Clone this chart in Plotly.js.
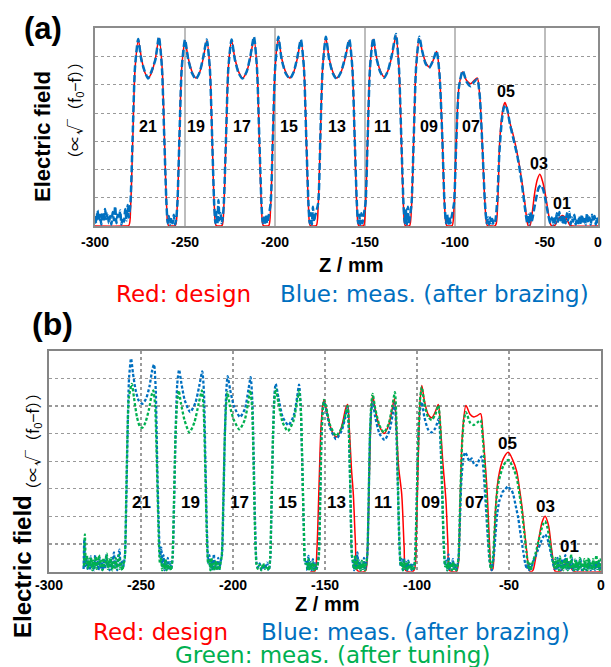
<!DOCTYPE html>
<html>
<head>
<meta charset="utf-8">
<script src="https://cdn.plot.ly/plotly-3.0.1.min.js"></script>
<style>html,body{margin:0;padding:0;background:#fff;}#chart{width:611px;height:667px;}</style>
</head>
<body>
<div id="chart"></div>
<script>
// ---------- Panel (a): [Z (mm), field] points ----------
const designA = [
[-300,0],[-284,0],
[-281.2,0.02],[-280.2,0.7],[-279.0,3.1],[-277.7,5.6],[-275.9,6.57],[-274.2,5.95],[-272.4,5.45],[-270.4,5.25],[-268.4,5.45],[-266.4,5.95],[-264.4,6.65],[-262.7,5.6],[-261.4,3.1],[-260.2,0.7],[-259.2,0.02],[-257.3,0],
[-255.3,0.02],[-254.3,0.7],[-253.1,3.1],[-251.8,5.6],[-250.0,6.54],[-248.2,5.95],[-246.0,5.45],[-243.9,5.24],[-241.8,5.45],[-239.8,5.95],[-237.9,6.57],[-236.2,5.6],[-234.9,3.1],[-233.7,0.7],[-232.7,0.02],[-231.0,0],
[-229.4,0.02],[-228.4,0.7],[-227.2,3.1],[-225.9,5.6],[-224.1,6.57],[-222.3,5.95],[-220.1,5.45],[-218.0,5.24],[-215.8,5.45],[-213.7,5.95],[-211.7,6.65],[-210.0,5.6],[-208.7,3.1],[-207.5,0.7],[-206.5,0.02],[-204.9,0],
[-203.4,0.02],[-202.4,0.7],[-201.2,3.1],[-199.9,5.6],[-198.1,6.65],[-196.3,5.95],[-194.0,5.45],[-191.7,5.24],[-189.6,5.45],[-187.5,5.95],[-185.6,6.57],[-183.9,5.6],[-182.6,3.1],[-181.4,0.7],[-180.4,0.02],[-178.6,0],
[-177.0,0.02],[-176.0,0.7],[-174.8,3.1],[-173.5,5.6],[-171.7,6.65],[-169.9,5.95],[-167.8,5.45],[-165.7,5.24],[-163.3,5.45],[-160.9,5.95],[-158.7,6.57],[-157.0,5.6],[-155.7,3.1],[-154.5,0.7],[-153.5,0.02],[-152.0,0],
[-150.7,0.02],[-149.7,0.7],[-148.5,3.1],[-147.2,5.6],[-145.4,6.61],[-143.6,5.98],[-141.5,5.5],[-139.4,5.28],[-137.2,5.5],[-134.9,6.05],[-132.8,6.73],[-131.1,5.6],[-129.8,3.1],[-128.6,0.7],[-127.6,0.02],[-126.0,0],
[-125.1,0.02],[-124.1,0.7],[-122.9,3.1],[-121.6,5.6],[-119.8,6.63],[-118.2,6.2],[-116.3,5.8],[-114.3,5.63],[-112.2,5.85],[-110.2,6.18],[-108.6,5.4],[-107.0,3.1],[-105.8,0.8],[-104.6,0.02],[-103.0,0],
[-101.5,0.02],[-100.5,0.7],[-99.3,2.9],[-97.8,4.9],[-95.7,5.45],[-93.5,5.15],[-91.3,5.04],[-89.4,5.15],[-87.6,5.24],[-86.2,4.6],[-84.8,2.9],[-83.3,0.8],[-82.0,0.02],[-80.0,0],
[-77.8,0],[-77.0,0.1],[-76.0,1.2],[-75.2,2.9],[-74.1,3.8],[-73.0,4.25],[-72.2,4.37],[-71.2,4.2],[-69.8,3.75],[-67.6,3.22],[-65.8,2.7],[-63.9,2.04],[-62.4,1.4],[-61.1,0.8],[-60.0,0.2],[-59.2,0],
[-58.3,0.02],[-57.0,0.5],[-55.6,1.21],[-54.2,1.65],[-52.8,1.83],[-51.4,1.6],[-50.0,1.21],[-48.3,0.55],[-46.8,0.05],[-45.8,0],
[-44.5,0.02],[-42.5,0.25],[-40.2,0.37],[-38.0,0.25],[-36.0,0.02],[-34.5,0],[-20.5,0]
];
const brazedA = [
[-300,0.35],[-299.3,0.1],[-298.6,0.55],[-297.9,0.2],[-297.2,0.4],[-296.5,0.05],[-295.8,0.5],[-295.1,0.15],[-294.4,0.6],[-293.7,0.25],[-293.0,0.45],[-292.3,0.1],[-291.6,0.35],[-290.9,0.05],[-290.2,0.5],[-289.5,0.2],[-288.8,0.7],[-288.1,0.1],[-287.4,0.4],[-286.7,0.25],[-286.0,0.55],[-285.3,0.05],[-284.6,0.3],[-283.9,0.15],[-283.2,0.6],[-282.5,0.2],[-281.8,0.74],[-281.2,0.3],
[-280.3,0.8],[-279.1,3.1],[-277.8,5.6],[-276.0,6.62],[-274.3,5.9],[-272.5,5.5],[-270.5,5.22],[-268.5,5.5],[-266.4,5.9],[-264.5,6.7],[-262.8,5.6],[-261.5,3.1],[-260.3,0.8],[-259.6,0.1],
[-259.0,0.35],[-258.3,0.05],[-257.6,0.3],[-256.9,0.1],[-256.2,0.4],[-255.5,0.05],[-254.8,0.3],
[-254.2,0.8],[-253.1,3.1],[-251.8,5.6],[-250.0,6.6],[-248.2,5.9],[-246.0,5.4],[-243.9,5.2],[-241.8,5.45],[-239.8,6.0],[-237.9,6.6],[-236.2,5.6],[-234.9,3.1],[-233.8,0.8],[-233.1,0.1],
[-232.5,0.5],[-232.0,0.05],[-231.4,0.92],[-230.8,0.2],[-230.2,0.45],[-229.6,0.1],[-229.0,0.3],
[-228.4,0.8],[-227.2,3.1],[-225.9,5.6],[-224.1,6.6],[-222.3,5.9],[-220.1,5.4],[-218.0,5.22],[-215.8,5.45],[-213.7,6.0],[-211.7,6.7],[-210.0,5.6],[-208.7,3.1],[-207.5,0.8],[-206.8,0.1],
[-206.2,0.3],[-205.6,0.05],[-205.0,0.4],[-204.4,0.1],[-203.8,0.25],
[-202.4,0.8],[-201.2,3.1],[-199.9,5.6],[-198.1,6.7],[-196.3,5.9],[-194.0,5.4],[-191.7,5.22],[-189.6,5.45],[-187.5,6.0],[-185.6,6.6],[-183.9,5.6],[-182.6,3.1],[-181.4,0.8],[-180.7,0.1],
[-180.1,0.45],[-179.5,0.05],[-178.9,0.68],[-178.3,0.15],[-177.7,0.35],
[-176.0,0.8],[-174.8,3.1],[-173.5,5.6],[-171.7,6.7],[-169.9,5.9],[-167.8,5.4],[-165.7,5.2],[-163.3,5.45],[-160.9,6.0],[-158.7,6.6],[-157.0,5.6],[-155.7,3.1],[-154.5,0.8],[-153.8,0.1],
[-153.2,0.4],[-152.6,0.05],[-152.0,0.45],[-151.4,0.1],[-150.9,0.3],
[-149.7,0.8],[-148.5,3.1],[-147.2,5.6],[-145.4,6.65],[-143.6,5.95],[-141.5,5.45],[-139.4,5.25],[-137.2,5.5],[-134.9,6.1],[-132.8,6.8],[-131.1,5.6],[-129.8,3.1],[-128.6,0.8],[-127.9,0.1],
[-127.3,0.6],[-126.7,0.05],[-126.1,0.68],[-125.6,0.1],[-125.1,0.3],
[-124.1,0.8],[-122.9,3.1],[-121.6,5.6],[-119.8,6.7],[-118.2,6.2],[-116.3,5.75],[-114.3,5.6],[-112.2,5.85],[-110.2,6.2],[-108.6,5.4],[-107.0,3.1],[-105.8,0.8],[-104.9,0.1],
[-104.3,0.4],[-103.7,0.05],[-103.1,0.35],[-102.5,0.1],[-101.9,0.3],
[-100.5,0.8],[-99.3,2.9],[-97.8,4.9],[-95.7,5.5],[-93.5,5.1],[-91.3,4.95],[-89.4,5.1],[-87.6,5.2],[-86.2,4.6],[-84.8,2.9],[-83.3,0.8],[-82.3,0.1],
[-81.6,0.3],[-81.0,0.05],[-80.4,0.3],[-79.8,0.1],[-79.2,0.25],[-78.5,0.05],
[-77.5,0.2],[-76.4,1.0],[-75.3,2.6],[-74.0,3.7],[-72.8,4.2],[-71.8,4.28],[-70.8,4.1],[-69.4,3.6],[-67.2,3.0],[-65.4,2.5],[-63.5,1.8],[-62.0,1.1],[-60.8,0.5],[-59.8,0.1],
[-59.2,0.4],[-58.6,0.05],[-58.0,0.5],[-57.4,0.15],[-56.8,0.3],
[-56.0,0.6],[-54.8,1.0],[-53.5,1.35],[-52.2,1.45],[-51.0,1.3],[-49.6,0.9],[-48.2,0.4],[-47.0,0.1],
[-46.2,0.3],[-45.5,0.05],[-44.8,0.35],[-44.1,0.1],[-43.4,0.45],[-42.7,0.15],[-42.0,0.5],[-41.3,0.2],[-40.6,0.4],[-39.9,0.05],[-39.2,0.35],[-38.5,0.1],[-37.8,0.45],[-37.1,0.2],[-36.4,0.5],[-35.7,0.05],[-35.0,0.3],[-34.3,0.15],[-33.6,0.4],[-32.9,0.05],[-32.2,0.25],[-31.5,0.1],[-30.8,0.35],[-30.1,0.05],[-29.4,0.4],[-28.7,0.15],[-28.0,0.3],[-27.3,0.05],[-26.6,0.45],[-25.9,0.1],[-25.2,0.3],[-24.5,0.05],[-23.8,0.4],[-23.1,0.15],[-22.4,0.35],[-21.7,0.05],[-21.0,0.3],[-20.5,0.1]
];

// ---------- Panel (b) ----------
const designB = [
[-158.0,0],[-155.5,0.02],[-154.4,0.8],[-153.3,3.0],[-152.2,5.2],[-151.2,6.0],[-150.5,6.22],[-149.3,5.9],[-147.3,5.3],[-145.6,5.0],[-144.0,4.88],[-142.3,5.0],[-140.4,5.4],[-138.8,5.9],[-137.7,6.05],[-136.8,5.2],[-135.6,3.7],[-134.6,2.8],[-133.5,1.1],[-132.5,0.05],[-131.0,0],
[-129.0,0],[-127.8,0.05],[-126.8,1.0],[-125.9,3.5],[-125.0,5.6],[-124.1,6.38],[-122.8,5.9],[-120.6,5.3],[-117.9,5.0],[-115.4,5.3],[-113.6,5.85],[-112.3,6.26],[-111.2,5.2],[-110.0,3.8],[-108.3,2.8],[-107.0,0.9],[-106.2,0.05],[-104.5,0],
[-102.5,0],[-101.3,0.1],[-100.3,1.5],[-99.3,4.2],[-98.3,6.2],[-97.4,6.74],[-96.0,6.2],[-94.0,5.7],[-92.0,5.57],[-90.0,5.8],[-88.4,6.05],[-87.3,5.3],[-86.0,4.0],[-84.3,2.6],[-83.2,1.0],[-82.4,0.05],[-80.5,0],
[-78.5,0],[-77.5,0.3],[-76.5,2.6],[-75.3,5.0],[-73.4,6.02],[-71.2,5.7],[-69.1,5.6],[-67.2,5.65],[-65.4,5.72],[-64.2,5.0],[-62.8,3.8],[-61.8,2.8],[-60.6,1.0],[-59.6,0.05],
[-58.8,0.1],[-58.0,1.2],[-57.4,2.19],[-55.8,3.39],[-53.0,4.1],[-50.4,4.32],[-48.0,4.05],[-45.8,3.63],[-44.3,3.0],[-43.1,2.43],[-41.6,1.5],[-40.4,0.75],[-39.2,0.1],[-38.3,0],
[-37.0,0.05],[-35.5,0.5],[-33.8,1.2],[-32.0,1.8],[-30.4,2.01],[-28.6,1.7],[-27.0,0.9],[-25.8,0.3],[-25.0,0.02],[-23.5,0],
[-21.5,0.05],[-18.5,0.38],[-15.5,0.05],[-14.0,0],[0,0]
];
const brazedB = [
[-281.2,0.1],[-280.8,1.17],[-280.3,0.2],[-279.7,0.5],[-279.1,0.1],[-278.5,0.4],[-277.9,0.05],[-277.3,0.55],[-276.7,0.15],[-276.1,0.35],[-275.5,0.05],[-274.9,0.6],[-274.3,0.2],[-273.7,0.4],[-273.1,0.05],[-272.5,0.5],[-271.9,0.15],[-271.3,0.3],[-270.7,0.05],[-270.1,0.45],[-269.5,0.1],[-268.9,0.6],[-268.3,0.2],[-267.7,0.35],[-267.1,0.05],[-266.5,0.5],[-265.9,0.1],[-265.3,0.4],[-264.7,0.7],[-264.1,0.15],[-263.5,0.45],[-262.9,0.05],[-262.3,0.6],[-261.7,0.8],[-261.1,0.2],[-260.5,0.4],[-259.9,0.1],[-259.3,0.3],
[-258.7,0.6],[-258.0,2.5],[-257.3,5.0],[-256.5,7.0],[-255.4,7.72],[-254.4,7.2],[-253.0,6.6],[-251.3,6.2],[-249.3,6.08],[-247.3,6.25],[-245.4,6.7],[-243.9,7.3],[-242.9,7.5],[-242.0,6.6],[-241.2,4.0],[-240.4,1.8],[-239.6,0.5],
[-239.0,0.87],[-238.4,0.2],[-237.8,0.6],[-237.2,0.05],[-236.6,0.4],[-236.0,0.1],[-235.4,0.5],[-234.8,0.05],[-234.2,0.35],[-233.6,0.1],
[-232.8,0.5],[-232.0,2.5],[-231.2,5.0],[-230.3,6.8],[-229.3,7.31],[-228.0,6.8],[-226.2,6.2],[-223.3,5.78],[-220.5,6.1],[-218.4,6.7],[-216.7,7.25],[-215.8,6.5],[-215.0,4.0],[-214.2,1.6],[-213.4,0.3],
[-212.8,0.6],[-212.2,0.1],[-211.6,0.4],[-211.0,0.05],[-210.4,0.63],[-209.8,0.15],[-209.2,0.3],[-208.6,0.05],[-208.0,0.5],[-207.4,0.1],[-206.8,0.35],
[-206.0,0.6],[-205.2,2.5],[-204.4,5.0],[-203.6,6.6],[-202.9,7.08],[-201.6,6.6],[-199.5,6.0],[-196.2,5.6],[-193.5,5.9],[-191.6,6.6],[-190.4,7.04],[-189.5,6.2],[-188.7,4.0],[-188.0,1.8],[-187.2,0.3],
[-186.5,0.15],[-185.5,0.3],[-184.5,0.05],[-183.5,0.25],[-182.5,0.1],[-181.5,0.33],[-180.5,0.05],
[-179.7,0.5],[-179.0,2.5],[-178.2,5.0],[-177.5,6.4],[-176.8,6.8],[-175.3,6.3],[-173.0,5.6],[-169.9,5.3],[-167.0,5.65],[-165.2,6.3],[-164.1,6.77],[-163.2,6.0],[-162.4,4.0],[-161.6,1.8],[-160.8,0.3],
[-160.2,0.4],[-159.6,0.05],[-159.0,0.57],[-158.4,0.1],[-157.8,0.35],[-157.2,0.05],[-156.6,0.45],[-156.0,0.1],[-155.4,0.3],[-154.8,0.05],[-154.2,0.2],
[-153.4,0.6],[-152.7,2.5],[-152.0,4.8],[-151.2,5.9],[-150.5,6.15],[-149.2,5.8],[-147.2,5.2],[-144.0,4.8],[-141.0,5.1],[-138.9,5.6],[-137.7,5.95],[-136.8,4.5],[-136.1,2.5],[-135.4,0.6],
[-134.8,0.3],[-134.2,0.05],[-133.6,0.5],[-133.0,0.1],[-132.4,0.7],[-131.8,0.15],[-131.2,0.4],[-130.6,0.05],[-130.0,0.3],[-129.4,0.1],[-128.8,0.5],[-128.2,0.05],[-127.6,0.3],
[-127.0,0.6],[-126.3,2.5],[-125.6,4.8],[-124.9,5.8],[-124.1,6.14],[-122.7,5.6],[-120.4,5.0],[-117.6,4.77],[-115.0,5.1],[-113.2,5.7],[-112.1,6.08],[-111.2,5.0],[-110.4,3.0],[-109.6,1.0],[-108.9,0.2],
[-108.3,0.45],[-107.7,0.05],[-107.1,0.5],[-106.5,0.1],[-105.9,0.35],[-105.3,0.05],[-104.7,0.4],[-104.1,0.1],[-103.5,0.3],[-102.9,0.05],[-102.3,0.25],[-101.7,0.1],
[-101.0,0.6],[-100.2,2.5],[-99.4,4.6],[-98.5,5.8],[-97.4,6.14],[-96.0,5.6],[-94.0,5.15],[-92.0,5.04],[-90.0,5.2],[-88.2,5.54],[-87.2,4.6],[-86.3,2.8],[-85.5,1.0],[-84.7,0.2],
[-84.1,0.4],[-83.5,0.05],[-82.9,0.63],[-82.3,0.1],[-81.7,0.35],[-81.1,0.05],[-80.5,0.45],[-79.9,0.1],[-79.3,0.3],[-78.7,0.05],[-78.1,0.2],
[-77.4,0.5],[-76.7,1.8],[-75.8,3.4],[-74.8,4.1],[-73.9,4.32],[-72.8,4.2],[-71.5,4.0],[-70.3,4.1],[-69.0,3.9],[-67.6,3.84],[-66.2,4.05],[-64.8,4.17],[-63.8,3.6],[-62.8,2.6],[-61.7,1.4],[-60.6,0.4],
[-60.0,0.2],[-59.4,0.05],[-58.8,0.3],
[-58.2,0.6],[-57.3,1.4],[-56.4,2.1],[-55.3,2.55],[-54.2,2.75],[-53.4,2.9],[-52.3,2.95],[-51.3,3.05],[-50.4,3.09],[-49.5,3.0],[-48.6,2.95],[-47.7,2.8],[-46.4,2.4],[-45.0,1.95],[-43.6,1.3],[-42.3,0.75],[-41.2,0.3],[-40.2,0.1],
[-39.6,0.3],[-39.0,0.05],[-38.4,0.25],[-37.8,0.1],
[-37.0,0.35],[-35.6,0.55],[-34.2,0.8],[-32.8,1.05],[-31.5,1.25],[-30.4,1.35],[-29.4,1.25],[-28.3,1.0],[-27.2,0.65],[-26.2,0.35],[-25.4,0.1],
[-24.8,0.4],[-24.2,0.05],[-23.6,0.5],[-23.0,0.15],[-22.4,0.3],[-21.8,0.05],[-21.2,0.45],[-20.6,0.1],[-20.0,0.35],[-19.4,0.6],[-18.8,0.1],[-18.2,0.4],[-17.6,0.05],[-17.0,0.3],[-16.4,0.15],[-15.8,0.5],[-15.2,0.05],[-14.6,0.25],[-14.0,0.1],[-13.4,0.4],[-12.8,0.05],[-12.2,0.3],[-11.6,0.15],[-11.0,0.45],[-10.4,0.05],[-9.8,0.25],[-9.2,0.1],[-8.6,0.35],[-8.0,0.05],[-7.4,0.3],[-6.8,0.1],[-6.2,0.4],[-5.6,0.05],[-5.0,0.25],[-4.4,0.1],[-3.8,0.35],[-3.2,0.05],[-2.6,0.3],[-2.0,0.1],[-1.4,0.4],[-0.8,0.05],[-0.2,0.3]
];
const tunedB = [
[-281.0,0.2],[-280.5,1.35],[-280.0,0.3],[-279.4,0.6],[-278.8,0.1],[-278.2,0.45],[-277.6,0.2],[-277.0,0.5],[-276.4,0.05],[-275.8,0.4],[-275.2,0.15],[-274.6,0.55],[-274.0,0.1],[-273.4,0.35],[-272.8,0.6],[-272.2,0.2],[-271.6,0.4],[-271.0,0.05],[-270.4,0.5],[-269.8,0.2],[-269.2,0.3],[-268.6,0.65],[-268.0,0.1],[-267.4,0.45],[-266.8,0.2],[-266.2,0.5],[-265.6,0.05],[-265.0,0.35],[-264.4,0.15],[-263.8,0.5],[-263.2,0.1],[-262.6,0.4],[-262.0,0.6],[-261.4,0.1],[-260.8,0.3],[-260.2,0.05],[-259.6,0.25],
[-258.8,0.5],[-258.1,2.5],[-257.4,4.8],[-256.6,6.3],[-255.0,6.8],[-253.8,6.3],[-252.2,5.6],[-250.6,5.25],[-249.3,5.21],[-247.6,5.4],[-245.6,5.9],[-244.2,6.4],[-243.3,6.56],[-242.3,6.0],[-241.4,4.0],[-240.6,1.8],[-239.7,0.3],
[-239.1,0.5],[-238.5,0.05],[-237.9,0.3],[-237.3,0.1],[-236.7,0.45],[-236.1,0.05],[-235.5,0.3],[-234.9,0.1],[-234.3,0.25],[-233.7,0.05],
[-232.9,0.5],[-232.1,2.5],[-231.3,4.8],[-230.4,6.1],[-229.5,6.56],[-228.3,6.1],[-226.4,5.5],[-223.7,5.04],[-221.0,5.4],[-218.6,6.1],[-216.9,6.56],[-215.9,5.8],[-215.1,3.8],[-214.3,1.5],[-213.5,0.3],
[-212.9,0.4],[-212.3,0.05],[-211.7,0.5],[-211.1,0.1],[-210.5,0.3],[-209.9,0.05],[-209.3,0.4],[-208.7,0.1],[-208.1,0.3],[-207.5,0.05],[-206.9,0.25],
[-206.1,0.6],[-205.3,2.5],[-204.5,4.8],[-203.7,6.1],[-203.0,6.5],[-201.7,6.0],[-199.6,5.5],[-196.5,5.15],[-193.6,5.5],[-191.8,6.1],[-190.6,6.56],[-189.6,5.9],[-188.8,3.8],[-188.1,1.6],[-187.3,0.3],
[-186.6,0.1],[-185.6,0.25],[-184.6,0.05],[-183.6,0.3],[-182.6,0.1],[-181.6,0.2],[-180.6,0.05],
[-179.8,0.5],[-179.1,2.5],[-178.3,4.8],[-177.5,6.2],[-176.8,6.62],[-175.3,6.1],[-173.0,5.4],[-170.2,5.09],[-167.2,5.45],[-165.2,6.15],[-164.0,6.56],[-163.1,5.8],[-162.3,3.8],[-161.5,1.6],[-160.7,0.3],
[-160.1,0.3],[-159.5,0.1],[-158.9,0.45],[-158.3,0.05],[-157.7,0.3],[-157.1,0.1],[-156.5,0.35],[-155.9,0.05],[-155.3,0.25],[-154.7,0.1],[-154.1,0.2],
[-153.3,0.6],[-152.6,2.5],[-151.9,4.8],[-151.1,5.95],[-150.5,6.22],[-149.2,5.9],[-147.2,5.3],[-144.0,4.92],[-141.0,5.2],[-138.9,5.7],[-137.7,6.0],[-136.8,4.6],[-136.1,2.5],[-135.4,0.6],
[-134.8,0.4],[-134.2,0.1],[-133.6,0.6],[-133.0,0.05],[-132.4,0.45],[-131.8,0.1],[-131.2,0.3],[-130.6,0.05],[-130.0,0.4],[-129.4,0.1],[-128.8,0.35],[-128.2,0.05],[-127.6,0.25],
[-127.0,0.6],[-126.3,2.5],[-125.6,4.9],[-124.9,6.0],[-124.1,6.44],[-122.7,5.9],[-120.4,5.3],[-118.0,5.04],[-115.4,5.35],[-113.4,6.0],[-112.0,6.5],[-111.1,5.3],[-110.3,3.0],[-109.5,1.0],[-108.8,0.2],
[-108.2,0.35],[-107.6,0.05],[-107.0,0.4],[-106.4,0.1],[-105.8,0.3],[-105.2,0.05],[-104.6,0.35],[-104.0,0.1],[-103.4,0.25],[-102.8,0.05],[-102.2,0.2],[-101.6,0.1],
[-100.9,0.6],[-100.1,2.5],[-99.3,4.8],[-98.4,6.2],[-97.4,6.68],[-96.0,6.1],[-94.0,5.6],[-92.0,5.49],[-90.0,5.7],[-88.4,6.02],[-87.3,5.2],[-86.3,3.0],[-85.5,1.1],[-84.7,0.2],
[-84.1,0.3],[-83.5,0.05],[-82.9,0.4],[-82.3,0.1],[-81.7,0.3],[-81.1,0.05],[-80.5,0.35],[-79.9,0.1],[-79.3,0.25],[-78.7,0.05],[-78.1,0.2],
[-77.4,0.5],[-76.6,2.4],[-75.6,4.5],[-74.5,5.5],[-73.4,5.78],[-71.2,5.4],[-69.1,5.31],[-67.2,5.4],[-65.4,5.49],[-64.2,4.8],[-63.0,3.6],[-61.9,2.2],[-60.8,0.8],[-59.9,0.1],
[-59.3,0.2],
[-58.6,0.6],[-57.6,1.8],[-56.6,2.8],[-55.5,3.3],[-53.0,3.85],[-50.4,4.05],[-48.0,3.8],[-45.8,3.4],[-44.3,2.8],[-43.0,2.2],[-41.7,1.4],[-40.5,0.7],[-39.4,0.15],
[-38.8,0.3],[-38.2,0.05],[-37.6,0.25],
[-36.8,0.4],[-35.4,0.7],[-34.0,1.1],[-32.5,1.5],[-31.3,1.75],[-30.4,1.83],[-29.3,1.65],[-28.3,1.3],[-27.2,0.8],[-26.2,0.4],[-25.3,0.15],
[-24.7,0.5],[-24.1,0.1],[-23.5,0.4],[-22.9,0.05],[-22.3,0.55],[-21.7,0.15],[-21.1,0.3],[-20.5,0.05],[-19.9,0.45],[-19.3,0.1],[-18.7,0.5],[-18.1,0.05],[-17.5,0.35],[-16.9,0.15],[-16.3,0.63],[-15.7,0.1],[-15.1,0.3],[-14.5,0.05],[-13.9,0.45],[-13.3,0.1],[-12.7,0.35],[-12.1,0.05],[-11.5,0.5],[-10.9,0.15],[-10.3,0.3],[-9.7,0.05],[-9.1,0.45],[-8.5,0.1],[-7.9,0.4],[-7.3,0.05],[-6.7,0.5],[-6.1,0.15],[-5.5,0.3],[-4.9,0.05],[-4.3,0.45],[-3.7,0.1],[-3.1,0.35],[-2.5,0.6],[-1.9,0.1],[-1.3,0.4],[-0.7,0.05],[-0.1,0.5]
];

// cell labels: [text, Z, field]
const cellLabelsA = [["21",-270.7,3.51],["19",-243.9,3.51],["17",-218.5,3.51],["15",-192,3.51],["13",-165.7,3.51],["11",-140.2,3.51],["09",-114.6,3.51],["07",-91.1,3.51],["05",-71.7,4.75],["03",-53.5,2.2],["01",-40.6,0.81]];
const cellLabelsB = [["21",-249.6,2.5],["19",-223.3,2.5],["17",-196.6,2.5],["15",-170.5,2.5],["13",-143.6,2.5],["11",-118.3,2.5],["09",-92.6,2.5],["07",-68.5,2.5],["05",-50.7,4.63],["03",-29.9,2.36],["01",-17.2,0.93]];

const tickValsA = [-300,-250,-200,-150,-100,-50,-20.5];
const tickTextA = ["-300","-250","-200","-150","-100","-50","0"];
const tickValsB = [-300,-250,-200,-150,-100,-50,0];
const tickTextB = ["-300","-250","-200","-150","-100","-50","0"];

const RED = "#FF0000", BLUE = "#0070C0", GREEN = "#00B050";
const xs = a => a.map(p => p[0]);
const ys = a => a.map(p => p[1]);

const traces = [
  {x: xs(designA), y: ys(designA), xaxis: "x", yaxis: "y", mode: "lines",
   line: {color: RED, width: 1.5, shape: "spline", smoothing: 0.8}},
  {x: xs(brazedA), y: ys(brazedA), xaxis: "x", yaxis: "y", mode: "lines",
   line: {color: BLUE, width: 2.5, dash: "7px,3px", shape: "spline", smoothing: 0.6}},
  {x: xs(designB), y: ys(designB), xaxis: "x2", yaxis: "y2", mode: "lines",
   line: {color: RED, width: 1.5, shape: "spline", smoothing: 0.8}},
  {x: xs(brazedB), y: ys(brazedB), xaxis: "x2", yaxis: "y2", mode: "lines",
   line: {color: BLUE, width: 2.3, dash: "3px,2px", shape: "spline", smoothing: 0.6}},
  {x: xs(tunedB), y: ys(tunedB), xaxis: "x2", yaxis: "y2", mode: "lines",
   line: {color: GREEN, width: 2.3, dash: "3px,2px", shape: "spline", smoothing: 0.6}}
];

const W = 611, H = 667;
const px = v => v / W, py = v => (H - v) / H;
const tickFont = {family: "Liberation Sans, Arial, sans-serif", size: 14, color: "#000", weight: 700};

const ann = [];
function addText(text, x, y, size, opts) {
  ann.push(Object.assign({text: text, x: px(x), y: py(y), xref: "paper", yref: "paper",
    showarrow: false, xanchor: "center", yanchor: "middle",
    font: {family: "Liberation Sans, Arial, sans-serif", size: size, color: "#000"}}, opts || {}));
}
addText("<b>(a)</b>", 43, 29, 31);
addText("<b>(b)</b>", 52, 324, 32);
addText("<b>Electric field</b>", 42, 137, 22, {textangle: -90});
addText("（∝√（f<sub>0</sub>−f））", 75, 110, 16, {textangle: -90, font: {family: "Noto Sans CJK JP", size: 16, color: "#000"}});
addText("<b>Electric field</b>", 22, 567, 24, {textangle: -90});
addText("（∝√（f<sub>0</sub>−f））", 32, 441, 16, {textangle: -90, font: {family: "Noto Sans CJK JP", size: 16, color: "#000"}});
addText("<b>Z / mm</b>", 351, 265, 20);
addText("<b>Z / mm</b>", 327, 604, 20);
const legFont = c => ({family: "DejaVu Sans", size: 23, color: c});
addText("Red: design", 183.5, 294, 23, {font: legFont(RED)});
addText("Blue: meas. (after brazing)", 434.5, 294, 23, {font: legFont(BLUE)});
addText("Red: design", 160.5, 632, 23, {font: legFont(RED)});
addText("Blue: meas. (after brazing)", 415.5, 632, 23, {font: legFont(BLUE)});
addText("Green: meas. (after tuning)", 332, 655, 23, {font: legFont(GREEN)});

cellLabelsA.forEach(l => ann.push({text: "<b>" + l[0] + "</b>", x: l[1], y: l[2], xref: "x", yref: "y",
  showarrow: false, font: {family: "Liberation Sans, Arial, sans-serif", size: 16, color: "#000"}}));
cellLabelsB.forEach(l => ann.push({text: "<b>" + l[0] + "</b>", x: l[1], y: l[2], xref: "x2", yref: "y2",
  showarrow: false, font: {family: "Liberation Sans, Arial, sans-serif", size: 17, color: "#000"}}));

const layout = {
  width: W, height: H, margin: {l: 0, r: 0, t: 0, b: 0},
  paper_bgcolor: "#fff", plot_bgcolor: "#fff", showlegend: false, hovermode: false,
  xaxis: {domain: [px(95), px(598)], anchor: "y", range: [-300, -20.5], tickmode: "array",
    tickvals: tickValsA, ticktext: tickTextA, tickfont: tickFont, ticks: "", ticklabelstandoff: 2,
    showgrid: true, gridcolor: "#bdbdbd", gridwidth: 2, zeroline: false,
    showline: true, linecolor: "#8c8c8c", linewidth: 2, mirror: true},
  yaxis: {domain: [py(226), py(28.3)], anchor: "x", range: [0, 7], dtick: 1, tick0: 0,
    showticklabels: false, ticks: "", showgrid: true, gridcolor: "#9a9a9a", griddash: "dot", gridwidth: 1,
    zeroline: false, showline: true, linecolor: "#8c8c8c", linewidth: 2, mirror: true},
  xaxis2: {domain: [px(49), px(601)], anchor: "y2", range: [-300, 0], tickmode: "array",
    tickvals: tickValsB, ticktext: tickTextB, tickfont: tickFont, ticks: "", ticklabelstandoff: -1,
    showgrid: true, gridcolor: "#9a9a9a", griddash: "dot", gridwidth: 1.2, zeroline: false,
    showline: true, linecolor: "#858585", linewidth: 2, mirror: true},
  yaxis2: {domain: [py(571.7), py(350.7)], anchor: "x2", range: [0, 8], dtick: 1, tick0: 0,
    showticklabels: false, ticks: "", showgrid: true, gridcolor: "#9a9a9a", griddash: "dot", gridwidth: 1.2,
    zeroline: false, showline: true, linecolor: "#858585", linewidth: 2, mirror: true},
  annotations: ann
};

Plotly.newPlot("chart", traces, layout, {displayModeBar: false, staticPlot: true});
</script>
</body>
</html>
